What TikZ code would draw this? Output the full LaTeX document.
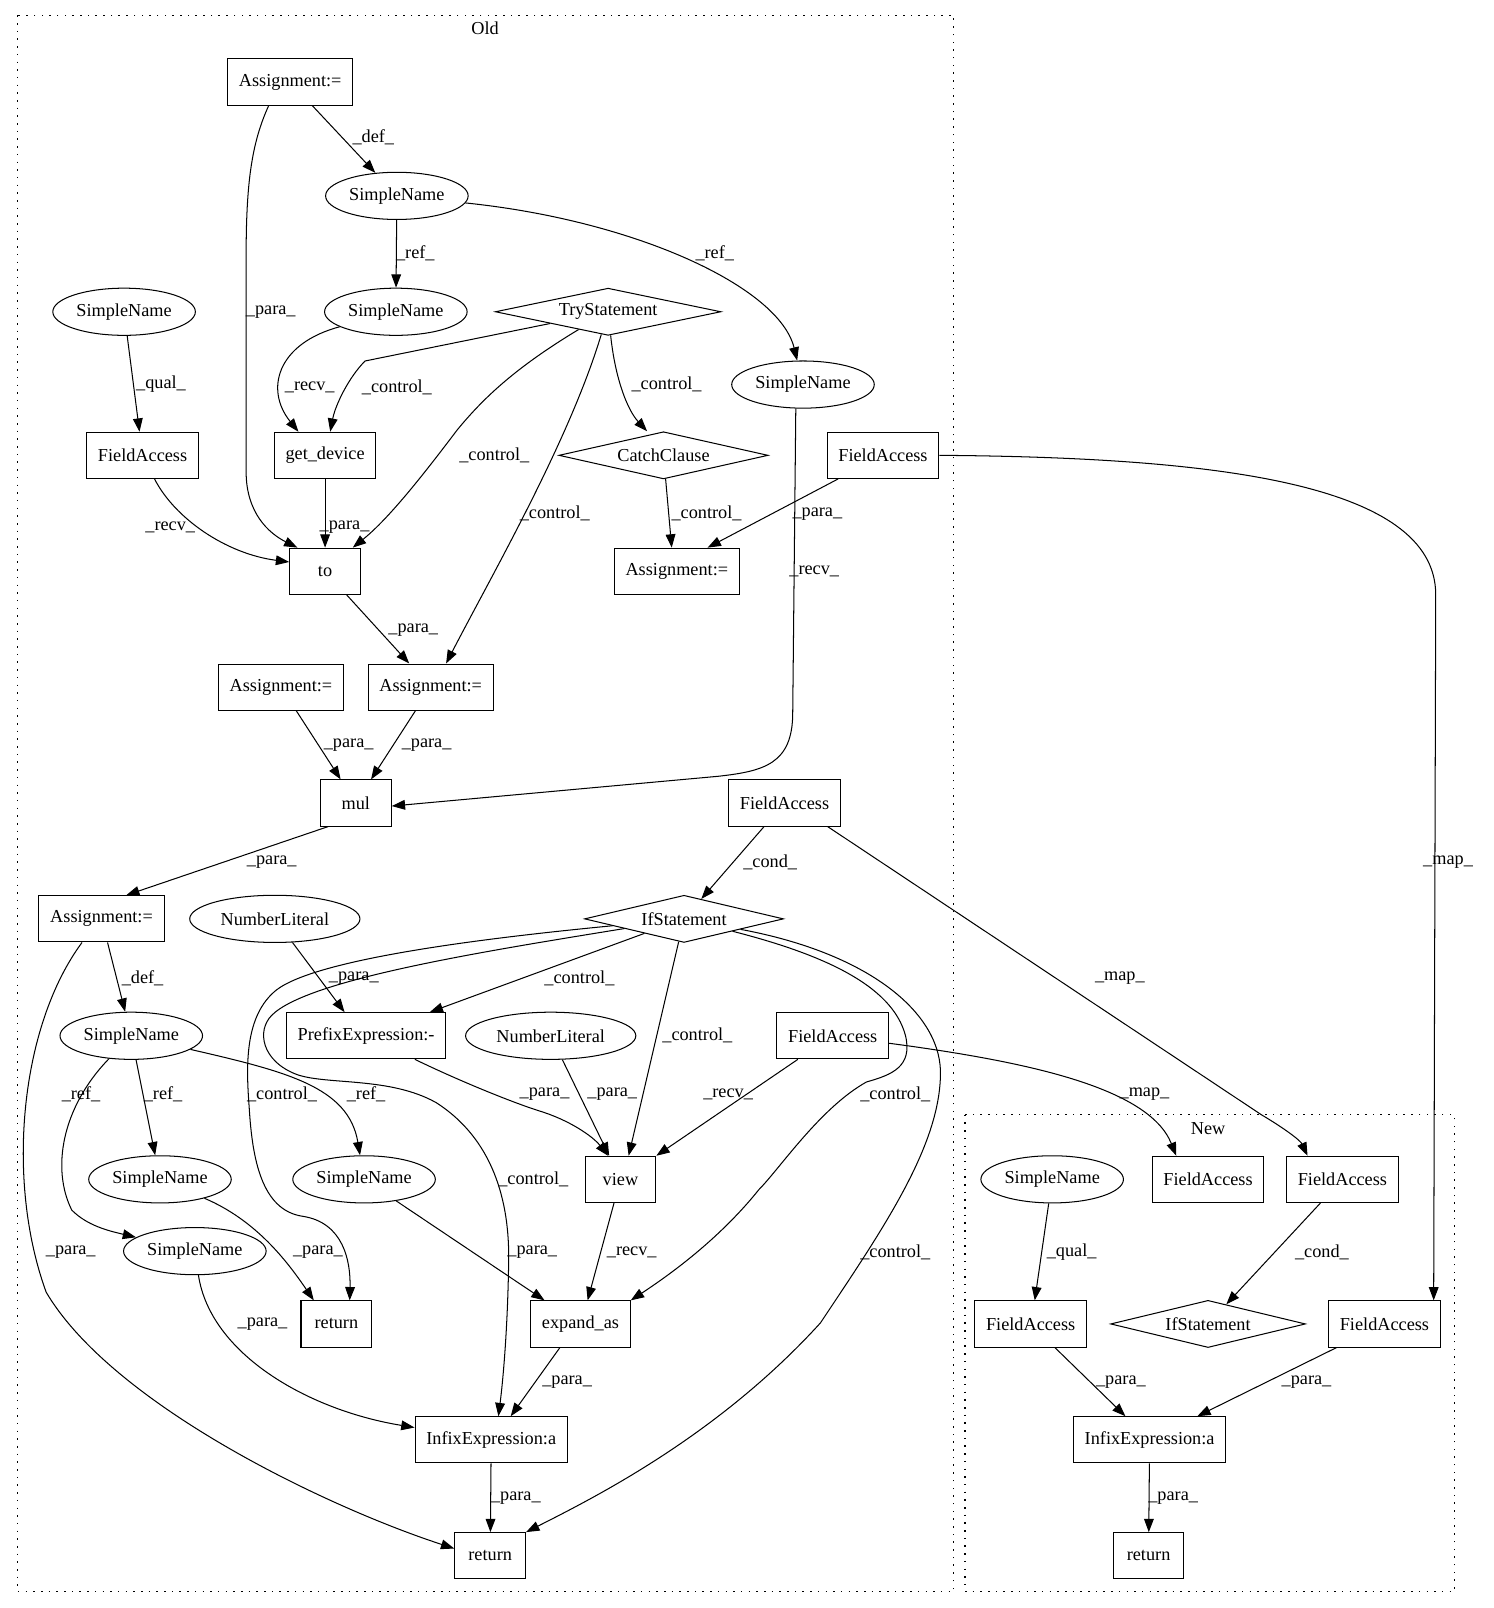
\documentclass[tikz,border=0pt]{standalone}
\usepackage{fontspec}
\setmainfont{Liberation Serif}
\usetikzlibrary{arrows.meta,shapes.geometric}
\begin{document}
\begin{tikzpicture}[x=1pt,y=-1pt,
  every node/.style={font=\fontsize{17.8}{20}\selectfont},
  bx/.style={draw, rectangle, minimum width=69pt, minimum height=45pt, inner xsep=11pt, inner ysep=0pt, line width=1pt},
  el/.style={draw, ellipse, minimum width=139pt, minimum height=46pt, inner sep=0pt, line width=1pt},
  dm/.style={draw, diamond, inner sep=0pt, aspect=4.5, minimum height=46pt, line width=1pt},
  ed/.style={-{Triangle[length=13pt,width=9.5pt]}, line width=1pt},
  lb/.style={inner sep=0pt},
  cl/.style={line width=1.2pt, dash pattern=on 1.5pt off 6pt}
]
\useasboundingbox (0,0) rectangle (1456,1568);
% clusters
\draw[cl] (17,15) rectangle (930,1552);
\node[lb] (oldlbl) at (473,28) {Old};
\draw[cl] (941,1087) rectangle (1418,1552);
\node[lb] (newlbl) at (1178,1101) {New};

% nodes Old
\node[bx] (a1) at (283,80) {Assignment:=};
\node[el] (sn2) at (387,191) {SimpleName};
\node[el] (sn3) at (386,304) {SimpleName};
\node[el] (sn4) at (121,304) {SimpleName};
\node[dm, minimum width=220pt] (try) at (593,304) {TryStatement};
\node[el] (sn6) at (783,375) {SimpleName};
\node[bx] (fa7) at (139,444) {FieldAccess};
\node[bx] (gd) at (317,444) {get\_device};
\node[dm, minimum width=204pt] (cc) at (647,444) {CatchClause};
\node[bx] (fa10) at (861,444) {FieldAccess};
\node[bx] (tonode) at (317,557) {to};
\node[bx] (a12) at (660,557) {Assignment:=};
\node[bx] (a13) at (274,670) {Assignment:=};
\node[bx] (a14) at (420,670) {Assignment:=};
\node[bx] (mul) at (347,783) {mul};
\node[bx] (fa16) at (765,783) {FieldAccess};
\node[bx] (a17) at (99,896) {Assignment:=};
\node[el, minimum width=166pt] (nl18) at (268,896) {NumberLiteral};
\node[dm, minimum width=194pt] (if19) at (667,896) {IfStatement};
\node[el] (sn20) at (128,1010) {SimpleName};
\node[bx] (pre) at (357,1010) {PrefixExpression:-};
\node[el, minimum width=166pt] (nl22) at (537,1010) {NumberLiteral};
\node[bx] (fa23) at (812,1010) {FieldAccess};
\node[el] (sn24) at (156,1150) {SimpleName};
\node[el] (sn25) at (355,1150) {SimpleName};
\node[bx] (view) at (605,1150) {view};
\node[el] (sn27) at (190,1220) {SimpleName};
\node[bx] (ret28) at (328,1291) {return};
\node[bx] (exp) at (566,1291) {expand\_as};
\node[bx] (inf30) at (479,1404) {InfixExpression:a};
\node[bx] (ret31) at (478,1517) {return};
% nodes New
\node[el] (sn32) at (1026,1150) {SimpleName};
\node[bx] (fa33) at (1178,1150) {FieldAccess};
\node[bx] (fa34) at (1309,1150) {FieldAccess};
\node[bx] (fa35) at (1005,1291) {FieldAccess};
\node[dm, minimum width=190pt] (if36) at (1178,1291) {IfStatement};
\node[bx] (fa37) at (1350,1291) {FieldAccess};
\node[bx] (inf38) at (1121,1404) {InfixExpression:a};
\node[bx] (ret39) at (1120,1517) {return};

% edges
\draw[ed] (a1) -- (sn2) node[lb] at (364,134) {\_def\_};
\draw[ed] ([xshift=-21pt]a1.south) .. controls (245,140) and (240,180) .. (240,250) -- (240,460) .. controls (240,500) and (262,520) .. ([xshift=-27pt]tonode.north) node[lb] at (264,304) {\_para\_};
\draw[ed] (sn2) -- (sn3) node[lb] at (405,247) {\_ref\_};
\draw[ed] (sn2) .. controls (620,215) and (760,280) .. (sn6) node[lb] at (697,247) {\_ref\_};
\draw[ed] (sn4) -- (fa7) node[lb] at (157,375) {\_qual\_};
\draw[ed] (sn3) .. controls (270,335) and (258,380) .. ([xshift=-26pt]gd.north) node[lb] at (302,378) {\_recv\_};
\draw[ed] (try) -- (356,352) .. controls (340,368) and (327,395) .. ([xshift=5pt]gd.north) node[lb] at (387,378) {\_control\_};
\draw[ed] (try) .. controls (500,360) and (470,390) .. (446,419) .. controls (415,460) and (380,505) .. ([xshift=27pt]tonode.north) node[lb] at (482,444) {\_control\_};
\draw[ed] (try) .. controls (555,430) and (480,560) .. ([xshift=15pt]a14.north) node[lb] at (541,501) {\_control\_};
\draw[ed] (try) .. controls (600,370) and (612,400) .. ([xshift=-16pt]cc.north) node[lb] at (650,375) {\_control\_};
\draw[ed] (cc) -- ([xshift=-5pt]a12.north) node[lb] at (689,501) {\_control\_};
\draw[ed] (fa10) -- ([xshift=30pt]a12.north) node[lb] at (797,501) {\_para\_};
\draw[ed] (fa10.east) .. controls (1180,446) and (1400,470) .. (1400,580) -- ([xshift=48pt]fa37.north) node[lb] at (1412,841) {\_map\_};
\draw[ed] (fa7) .. controls (170,505) and (220,540) .. ([yshift=9pt]tonode.west) node[lb] at (166,514) {\_recv\_};
\draw[ed] (gd) -- (tonode) node[lb] at (336,514) {\_para\_};
\draw[ed] (tonode) -- (a14) node[lb] at (403,614) {\_para\_};
\draw[ed] ([xshift=-7pt]sn6.south) -- (773,695) .. controls (773,745) and (745,752) .. (700,757) -- ([yshift=-3pt]mul.east) node[lb] at (794,557) {\_recv\_};
\draw[ed] (a13) -- (mul) node[lb] at (340,727) {\_para\_};
\draw[ed] (a14) -- (mul) node[lb] at (416,727) {\_para\_};
\draw[ed] ([xshift=-27pt]mul.south) -- ([xshift=24pt]a17.north) node[lb] at (265,841) {\_para\_};
\draw[ed] (fa16) -- (if19) node[lb] at (751,841) {\_cond\_};
\draw[ed] ([xshift=42pt]fa16.south) -- (1230,1087) .. controls (1252,1100) and (1268,1112) .. ([xshift=-34pt]fa34.north) node[lb] at (1092,954) {\_map\_};
\draw[ed] (a17) -- (sn20) node[lb] at (139,954) {\_def\_};
\draw[ed] ([xshift=-19pt]a17.south) .. controls (20,1000) and (5,1150) .. (45,1260) .. controls (110,1370) and (320,1470) .. ([yshift=7pt]ret31.west) node[lb] at (69,1221) {\_para\_};
\draw[ed] (nl18) -- ([xshift=-21pt]pre.north) node[lb] at (345,954) {\_para\_};
\draw[ed] (if19) -- ([xshift=62pt]pre.north) node[lb] at (565,954) {\_control\_};
\draw[ed] (if19) -- ([xshift=8pt]view.north) node[lb] at (680,1010) {\_control\_};
\draw[ed] (if19) .. controls (470,915) and (310,935) .. (270,965) .. controls (238,990) and (240,1040) .. (243,1080) .. controls (246,1130) and (255,1180) .. (295,1186) .. controls (335,1192) and (342,1230) .. ([xshift=13pt]ret28.north) node[lb] at (275,1067) {\_control\_};
\draw[ed] (if19) .. controls (470,928) and (300,955) .. (265,990) .. controls (250,1005) and (255,1035) .. (290,1048) .. controls (320,1058) and (380,1050) .. (425,1075) .. controls (480,1110) and (497,1170) .. (496,1230) .. controls (495,1300) and (490,1350) .. ([xshift=7pt]inf30.north) node[lb] at (520,1150) {\_control\_};
\draw[ed] (if19) .. controls (800,930) and (870,960) .. (883,1010) .. controls (890,1040) and (870,1048) .. (845,1055) .. controls (800,1080) and (760,1140) .. (740,1160) .. controls (700,1210) and (650,1245) .. (exp.north east) node[lb] at (873,1067) {\_control\_};
\draw[ed] (if19) .. controls (850,930) and (920,990) .. (917,1050) .. controls (915,1120) and (860,1200) .. (800,1290) .. controls (700,1400) and (580,1460) .. (ret31.north east) node[lb] at (873,1221) {\_control\_};
\draw[ed] (sn20) .. controls (60,1080) and (50,1140) .. (70,1180) .. controls (85,1195) and (105,1200) .. (sn27) node[lb] at (79,1067) {\_ref\_};
\draw[ed] (sn20) -- (sn24) node[lb] at (159,1067) {\_ref\_};
\draw[ed] (sn20) .. controls (280,1045) and (340,1060) .. (sn25) node[lb] at (357,1067) {\_ref\_};
\draw[ed] (pre) .. controls (450,1055) and (500,1075) .. (525,1083) .. controls (555,1092) and (578,1108) .. ([xshift=-12pt]view.north) node[lb] at (531,1067) {\_para\_};
\draw[ed] (nl22) -- ([xshift=-11pt]view.north) node[lb] at (597,1067) {\_para\_};
\draw[ed] ([xshift=-34pt]fa23.south) -- (view.north east) node[lb] at (710,1067) {\_recv\_};
\draw[ed] (fa23) .. controls (1000,1035) and (1120,1060) .. ([xshift=-31pt]fa33.north) node[lb] at (1116,1067) {\_map\_};
\draw[ed] (sn24) .. controls (250,1190) and (280,1230) .. ([xshift=-22pt]ret28.north) node[lb] at (310,1221) {\_para\_};
\draw[ed] (sn27) .. controls (205,1320) and (300,1375) .. ([yshift=12pt]inf30.west) node[lb] at (256,1291) {\_para\_};
\draw[ed] (sn25) -- ([xshift=-35pt]exp.north) node[lb] at (519,1221) {\_para\_};
\draw[ed] (view) -- ([xshift=7pt]exp.north) node[lb] at (616,1221) {\_recv\_};
\draw[ed] ([xshift=-20pt]exp.south) -- ([xshift=19pt]inf30.north) node[lb] at (553,1348) {\_para\_};
\draw[ed] (inf30) -- (ret31) node[lb] at (503,1461) {\_para\_};
% New edges
\draw[ed] (sn32) -- ([xshift=4pt]fa35.north) node[lb] at (1045,1221) {\_qual\_};
\draw[ed] (fa34) -- (if36) node[lb] at (1289,1221) {\_cond\_};
\draw[ed] (fa35) -- (inf38) node[lb] at (1093,1348) {\_para\_};
\draw[ed] (fa37) -- (inf38) node[lb] at (1274,1348) {\_para\_};
\draw[ed] (inf38) -- (ret39) node[lb] at (1144,1461) {\_para\_};
\end{tikzpicture}
\end{document}
